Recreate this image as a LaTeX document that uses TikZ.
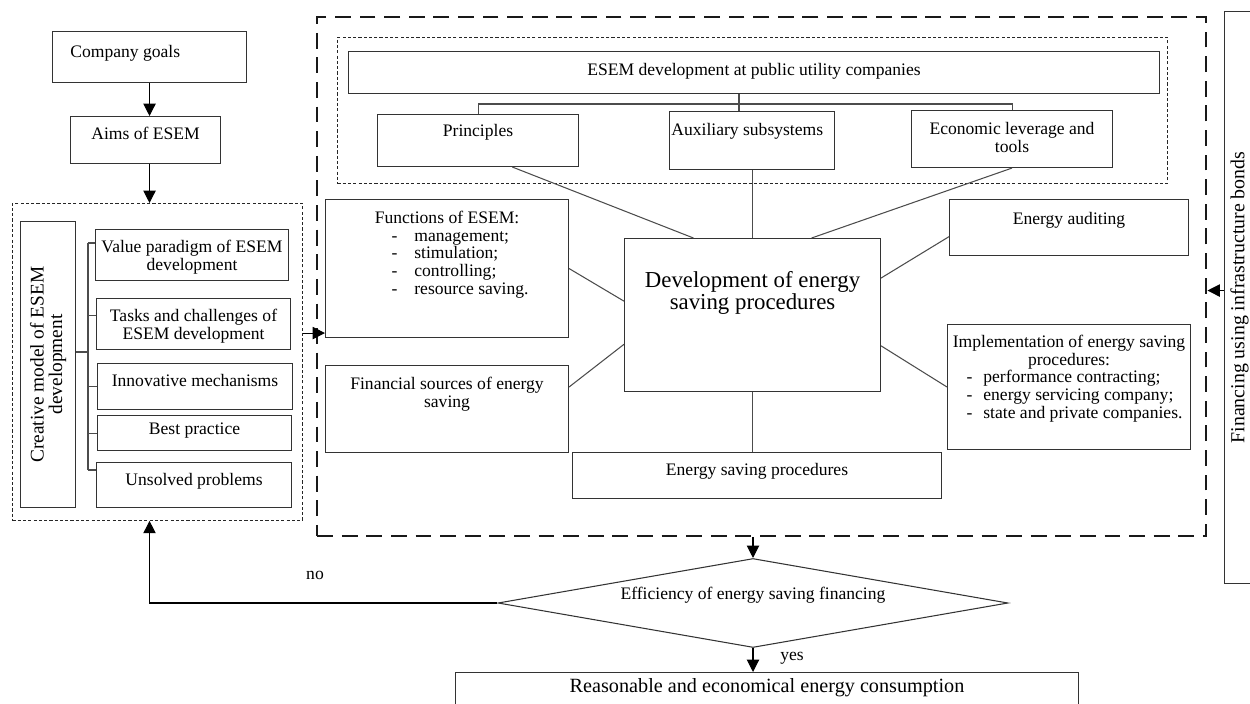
\documentclass[tikz,border=0pt]{standalone}
\usepackage{fontspec}
\setmainfont{Liberation Serif}
\usetikzlibrary{arrows.meta,calc,shapes.geometric}

\newcommand{\dashitem}[3]{\makebox[#1][l]{-\hspace{#2}#3}}

\tikzset{
  blk/.style={draw=black!80, line width=0.6pt, inner sep=0pt, anchor=north west},
  wh/.style 2 args={minimum width=#1*0.2mm, minimum height=#2*0.2mm},
  inl/.style={anchor=north, inner sep=0pt, align=center, yshift=#1},
  inl/.default=-2.2mm,
  ln/.style={draw=black!70, line width=0.6pt},
  arr/.style={draw=black, line width=0.6pt, -{Triangle[width=7pt,length=7pt]}},
  dotbox/.style={blk, draw=black!85, line width=0.5pt, dash pattern=on 1.8pt off 1.2pt},
  bigdash/.style={blk, draw=black!90, line width=1.4pt, dash pattern=on 9pt off 5pt},
  decide/.style={diamond, draw=black!80, line width=0.6pt, aspect=5.7, inner sep=0pt,
    minimum width=102mm, minimum height=17.8mm},
}

\begin{document}
\begin{tikzpicture}[x=0.2mm, y=-0.2mm, font=\fontsize{10}{10}\selectfont]
  \useasboundingbox (0,0) rectangle (1250,704);

  % left column
  \node[blk, wh={194}{51}, label={[inl=-2.8mm, anchor=north west, xshift=3.6mm]north west:Company goals}] (goals) at (52,31) {};
  \node[blk, wh={150}{47}, label={[inl]north:Aims of ESEM}] (aims) at (70,116) {};
  \node[dotbox, wh={290}{317}] (crm) at (12,203) {};
  \node[blk, wh={55}{286}, label={[rotate=90, inner sep=0pt, align=center, font=\fontsize{11}{10.5}\selectfont]center:{Creative model of ESEM\\development}}] (cmb) at (20,221) {};
  \node[blk, wh={193}{51}, label={[inl]north:{Value paradigm of ESEM\\development}}] (val) at (95,229) {};
  \node[blk, wh={194}{51}, label={[inl]north:{Tasks and challenges of\\ESEM development}}] (tsk) at (96,298) {};
  \node[blk, wh={195}{46}, label={[inl]north:Innovative mechanisms}] (inn) at (97,363) {};
  \node[blk, wh={194}{35}, label={[inl=-1.6mm]north:Best practice}] (bst) at (97,415) {};
  \node[blk, wh={195}{45}, label={[inl]north:Unsolved problems}] (uns) at (96,462) {};

  % main block
  \node[bigdash, wh={889}{519}] (core) at (316,16) {};
  \node[dotbox, wh={830}{146}] (pub) at (337,37) {};
  \node[blk, wh={811}{42}, label={[inl=-2.4mm]north:ESEM development at public utility companies}] (esem) at (348,51) {};
  \node[blk, wh={201}{52}, label={[inl=-2mm]north:Principles}] (prin) at (377,114) {};
  \node[blk, wh={165}{58}, label={[inl=-2.4mm, anchor=north west, xshift=0.4mm]north west:Auxiliary subsystems}] (aux) at (669,111) {};
  \node[blk, wh={201}{57}, label={[inl=-2.4mm]north:{Economic leverage and\\tools}}] (ecn) at (911,110) {};
  \node[blk, wh={256}{153}, label={[inl=-6.6mm, font=\fontsize{13}{12.5}\selectfont]north:{Development of energy\\saving procedures}}] (cen) at (624,238) {};
  \node[blk, wh={243}{138}, label={[inl=-2.4mm]north:{Functions of ESEM:\\
      \dashitem{22.2mm}{3.4mm}{management;}\\
      \dashitem{22.2mm}{3.4mm}{stimulation;}\\
      \dashitem{22.2mm}{3.4mm}{controlling;}\\
      \dashitem{22.2mm}{3.4mm}{resource saving.}}}] (fun) at (325,199) {};
  \node[blk, wh={243}{87}, label={[inl=-2.4mm]north:{Financial sources of energy\\saving}}] (fsrc) at (325,365) {};
  \node[blk, wh={369}{46}, label={[inl]north:Energy saving procedures}] (esp) at (572,452) {};
  \node[blk, wh={239}{56}, label={[inl=-2.6mm]north:Energy auditing}] (aud) at (949,199) {};
  \node[blk, wh={243}{125}, label={[inl]north:{Implementation of energy saving\\procedures:\\
      \dashitem{41mm}{2.2mm}{performance contracting;}\\
      \dashitem{41mm}{2.2mm}{energy servicing company;}\\
      \dashitem{41mm}{2.2mm}{state and private companies.}}}] (imp) at (947,324) {};

  % right and bottom
  \node[blk, wh={40}{572}, label={[xshift=-1mm, rotate=90, inner sep=0pt, font=\fontsize{11.3}{11.3}\selectfont]center:Financing using infrastructure bonds}] (fin) at (1224,11) {};
  \node[decide, label={[yshift=1.6mm, inner sep=0pt]center:Efficiency of energy saving financing}] (dia) at (753,603) {};
  \node[blk, wh={623}{50}, label={[inl=-1.2mm, font=\fontsize{11.5}{12}\selectfont]north:Reasonable and economical energy consumption}] (reas) at (455,672) {};
  \node[inner sep=0pt] (lblno) at (315,575) {no};
  \node[inner sep=0pt] (lblyes) at (792,658) {yes};

  % bracket of the creative model
  \coordinate (bt) at (88,243);
  \coordinate (bm) at (88,352);
  \coordinate (bb) at (88,470);
  \draw[ln] (bt) -- (bb);
  \draw[ln] (bm -| cmb.east) -- (bm);
  \draw[ln] (bt) -- (bt -| val.west);
  \foreach \b in {tsk.175,inn.west,bst.west}
    \draw[ln] (\b -| bt) -- (\b);
  \draw[ln] (bb) -- (bb -| uns.west);

  % tree under ESEM development
  \coordinate (hub) at (739,104);
  \draw[ln] (hub |- esem.south) -- (hub |- aux.north);
  \draw[ln] (prin.north) |- (hub) -| (ecn.north);

  % spokes of the central box
  \draw[ln] ($(prin.south west)!.67!(prin.south east)$) -- ($(cen.north west)!.27!(cen.north east)$);
  \draw[ln] (aux.south) -- (aux.south |- cen.north);
  \draw[ln] (ecn.south) -- ($(cen.north west)!.73!(cen.north east)$);
  \draw[ln] (fun.east) -- ($(cen.north west)!.41!(cen.south west)$);
  \draw[ln] ($(fsrc.north east)!.25!(fsrc.south east)$) -- ($(cen.north west)!.69!(cen.south west)$);
  \draw[ln] ($(aud.north west)!.66!(aud.south west)$) -- ($(cen.north east)!.26!(cen.south east)$);
  \draw[ln] (imp.west) -- ($(cen.north east)!.70!(cen.south east)$);
  \draw[ln] (cen.south) -- (cen.south |- esp.north);

  % arrows
  \coordinate (fa) at ([yshift=1mm]fun.south west);
  \coordinate (fb) at ([yshift=1.4mm]fin.west);
  \draw[arr] (goals.south) -- (goals.south |- aims.north);
  \draw[arr] (aims.south -| goals.south) -- (goals.south |- crm.north);
  \draw[arr] (fa -| crm.east) -- (fa);
  \draw[arr] (fb) -- (fb -| core.east);
  \draw[arr] (core.south -| dia.north) -- (dia.north);
  \draw[arr] (dia.west) -| (goals.south |- crm.south);
  \draw[arr] (dia.south) -- (dia.south |- reas.north);
\end{tikzpicture}
\end{document}
